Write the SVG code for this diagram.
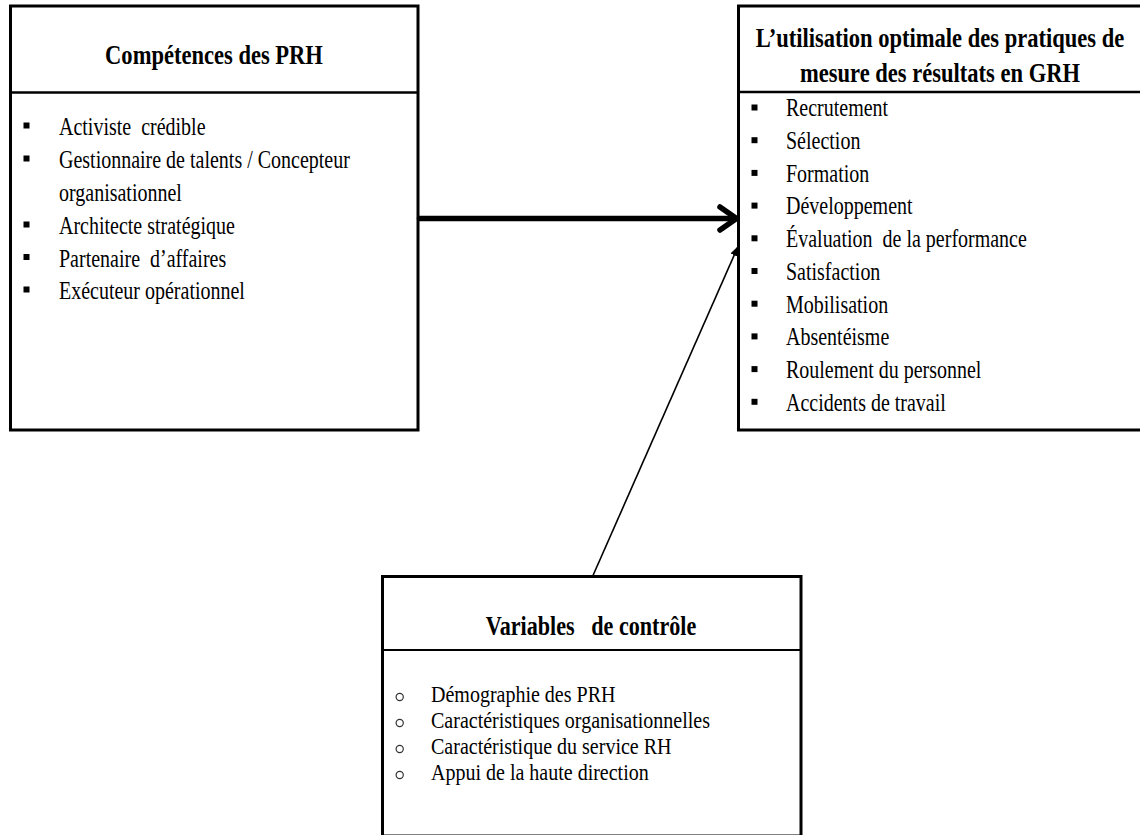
<svg xmlns="http://www.w3.org/2000/svg" width="1140" height="835" viewBox="0 0 1140 835">
  <style>
    .box { fill: #ffffff; stroke: #000000; stroke-width: 3; }
    .rule { stroke: #000000; stroke-width: 2.6; }
    .rule-thin { stroke: #000000; stroke-width: 2.2; }
    .title { font-family: "Liberation Serif", "Times New Roman", serif; font-weight: bold; font-size: 27px; fill: #000000; text-anchor: middle; white-space: pre; }
    .item { font-family: "Liberation Serif", "Times New Roman", serif; font-size: 25px; fill: #000000; white-space: pre; }
    .item-sm { font-family: "Liberation Serif", "Times New Roman", serif; font-size: 23px; fill: #000000; white-space: pre; }
    .sq { fill: #000000; }
    .ring { fill: none; stroke: #333333; stroke-width: 1.2; }
    .thick { fill: none; stroke: #000000; stroke-width: 5.5; stroke-linecap: round; stroke-linejoin: round; }
    .thin { fill: none; stroke: #000000; stroke-width: 1.6; }
  </style>
  <defs>
    <marker id="tip" viewBox="0 0 10 8" refX="9.5" refY="4" markerWidth="10" markerHeight="8" markerUnits="userSpaceOnUse" orient="auto">
      <path d="M0,0 L10,4 L0,8 Z" fill="#000000"/>
    </marker>
  </defs>

  <rect width="1140" height="835" fill="#ffffff"/>

  <!-- Compétences des PRH -->
  <g id="competences">
    <rect class="box" x="10.5" y="6" width="407.5" height="424"/>
    <line class="rule" x1="10.5" y1="92.5" x2="418" y2="92.5"/>
    <text class="title" transform="translate(214 64) scale(0.835 1)">Compétences des PRH</text>
    <rect class="sq" x="23.5" y="122.5" width="6" height="6"/>
    <text class="item" transform="translate(59 135) scale(0.8 1)">Activiste  crédible</text>
    <rect class="sq" x="23.5" y="155.5" width="6" height="6"/>
    <text class="item" transform="translate(59 168) scale(0.8 1)">Gestionnaire de talents / Concepteur</text>
    <text class="item" transform="translate(59 200.5) scale(0.8 1)">organisationnel</text>
    <rect class="sq" x="23.5" y="221.5" width="6" height="6"/>
    <text class="item" transform="translate(59 234) scale(0.8 1)">Architecte stratégique</text>
    <rect class="sq" x="23.5" y="254" width="6" height="6"/>
    <text class="item" transform="translate(59 266.5) scale(0.8 1)">Partenaire  d’affaires</text>
    <rect class="sq" x="23.5" y="286.5" width="6" height="6"/>
    <text class="item" transform="translate(59 299) scale(0.8 1)">Exécuteur opérationnel</text>
  </g>

  <!-- L'utilisation optimale des pratiques de mesure des résultats en GRH -->
  <g id="utilisation">
    <rect class="box" x="738.5" y="6" width="404" height="424"/>
    <line class="rule" x1="738.5" y1="92" x2="1142" y2="92"/>
    <text class="title" transform="translate(940 46.5) scale(0.835 1)">L’utilisation optimale des pratiques de</text>
    <text class="title" transform="translate(940 81.5) scale(0.835 1)">mesure des résultats en GRH</text>
    <g class="sq">
      <rect x="751.5" y="104.5" width="6" height="6"/>
      <rect x="751.5" y="137.2" width="6" height="6"/>
      <rect x="751.5" y="169.9" width="6" height="6"/>
      <rect x="751.5" y="202.6" width="6" height="6"/>
      <rect x="751.5" y="235.3" width="6" height="6"/>
      <rect x="751.5" y="268" width="6" height="6"/>
      <rect x="751.5" y="300.7" width="6" height="6"/>
      <rect x="751.5" y="333.4" width="6" height="6"/>
      <rect x="751.5" y="366.1" width="6" height="6"/>
      <rect x="751.5" y="398.8" width="6" height="6"/>
    </g>
    <text class="item" transform="translate(786 116.3) scale(0.8 1)">Recrutement</text>
    <text class="item" transform="translate(786 149) scale(0.8 1)">Sélection</text>
    <text class="item" transform="translate(786 181.7) scale(0.8 1)">Formation</text>
    <text class="item" transform="translate(786 214.4) scale(0.8 1)">Développement</text>
    <text class="item" transform="translate(786 247.1) scale(0.8 1)">Évaluation  de la performance</text>
    <text class="item" transform="translate(786 279.8) scale(0.8 1)">Satisfaction</text>
    <text class="item" transform="translate(786 312.5) scale(0.8 1)">Mobilisation</text>
    <text class="item" transform="translate(786 345.2) scale(0.8 1)">Absentéisme</text>
    <text class="item" transform="translate(786 377.9) scale(0.8 1)">Roulement du personnel</text>
    <text class="item" transform="translate(786 410.6) scale(0.8 1)">Accidents de travail</text>
  </g>

  <!-- Variables de contrôle -->
  <g id="controle">
    <rect class="box" x="382.5" y="576.5" width="418.5" height="259.5"/>
    <line class="rule-thin" x1="382.5" y1="650" x2="801" y2="650"/>
    <text class="title" transform="translate(591 635) scale(0.82 1)">Variables   de contrôle</text>
    <circle class="ring" cx="399.7" cy="697" r="3.6"/>
    <text class="item-sm" transform="translate(431 702) scale(0.87 1)">Démographie des PRH</text>
    <circle class="ring" cx="399.7" cy="723" r="3.6"/>
    <text class="item-sm" transform="translate(431 728) scale(0.87 1)">Caractéristiques organisationnelles</text>
    <circle class="ring" cx="399.7" cy="749" r="3.6"/>
    <text class="item-sm" transform="translate(431 754) scale(0.87 1)">Caractéristique du service RH</text>
    <circle class="ring" cx="399.7" cy="775" r="3.6"/>
    <text class="item-sm" transform="translate(431 780) scale(0.87 1)">Appui de la haute direction</text>
  </g>

  <!-- connectors -->
  <g id="connectors">
    <line class="thick" x1="419.5" y1="218.5" x2="734" y2="218.5"/>
    <polyline class="thick" points="720,207 736.5,218.5 720,230"/>
    <line class="thin" x1="593" y1="575.5" x2="738" y2="246.5" marker-end="url(#tip)"/>
  </g>
</svg>
